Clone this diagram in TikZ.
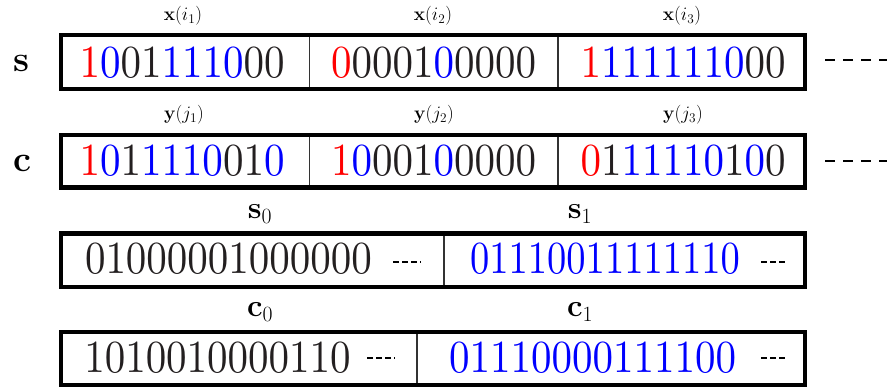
\documentclass[tikz,border=0pt]{standalone}
\usepackage{fix-cm}
\usepackage{xcolor}
\usepackage{graphicx}
\definecolor{ink}{RGB}{35,31,32}
\font\digfont=cmr10 at 41pt
\newcommand\R[1]{\textcolor{red}{#1}}
\newcommand\B[1]{\textcolor{blue}{#1}}
\newcommand\K[1]{\textcolor{ink}{#1}}
\newcommand\digs[1]{\scalebox{1}[1.12]{\digfont #1}}
\newcommand\digsn[1]{\scalebox{0.94}[1.12]{\digfont #1}}
\begin{document}
\begin{tikzpicture}[x=1pt,y=-1pt,
  bits/.style={anchor=base, inner sep=0pt},
  lab/.style={anchor=base, inner sep=0pt, font=\fontsize{19}{22}\selectfont},
  mid/.style={anchor=base, inner sep=0pt, font=\fontsize{31}{34}\selectfont},
  side/.style={anchor=base, inner sep=0pt, font=\fontsize{36}{40}\selectfont},
  frame/.style={line width=4.5pt},
  sep/.style={line width=1.5pt, draw=black!80},
  tail/.style={line width=2.5pt, dash pattern=on 10pt off 8pt},
  tinytail/.style={line width=1.2pt, dash pattern=on 5.5pt off 3.5pt}]
\useasboundingbox (0,0) rectangle (887,390);

% ---- row s
\draw[sep] (309.5,35) -- (309.5,89);
\draw[sep] (558,35) -- (558,89);
\draw[frame] (61,35) rectangle (805,89);
\node[side] (ls) at (21,72) {$\mathbf{s}$};
\node[lab] (xi1) at (183,21) {$\mathbf{x}(i_1)$};
\node[lab] (xi2) at (433,21) {$\mathbf{x}(i_2)$};
\node[lab] (xi3) at (682,21) {$\mathbf{x}(i_3)$};
\node[bits] (s1) at (182,78) {\digs{\R{1}\B{0}\K{01}\B{1110}\K{00}}};
\node[bits] (s2) at (433.5,78) {\digs{\R{0}\K{0001}\B{0}\K{0000}}};
\node[bits] (s3) at (683,78) {\digs{\R{1}\B{1111110}\K{00}}};
\coordinate (ta1) at (825,60);
\coordinate (tb1) at (887,60);
\draw[tail] (ta1) -- (tb1);

% ---- row c
\draw[sep] (309.5,135) -- (309.5,187.5);
\draw[sep] (558,135) -- (558,187.5);
\draw[frame] (61,135) rectangle (805,187.5);
\node[side] (lc) at (22,172) {$\mathbf{c}$};
\node[lab] (yj1) at (184,119.5) {$\mathbf{y}(j_1)$};
\node[lab] (yj2) at (434,119.5) {$\mathbf{y}(j_2)$};
\node[lab] (yj3) at (683,119.5) {$\mathbf{y}(j_3)$};
\node[bits] (c1) at (182,176) {\digs{\R{1}\B{0}\K{1}\B{1110}\K{01}\B{0}}};
\node[bits] (c2) at (433.5,176) {\digs{\R{1}\B{0}\K{001}\B{0}\K{0000}}};
\node[bits] (c3) at (683,176) {\digs{\R{0}\K{1}\B{11110}\K{1}\B{0}\K{0}}};
\coordinate (ta2) at (825,161);
\coordinate (tb2) at (887,161);
\draw[tail] (ta2) -- (tb2);

% ---- row s0 s1
\draw[sep] (444,233.5) -- (444,287);
\draw[frame] (61,233.5) rectangle (805,287);
\node[mid] (ls0) at (260,219) {$\mathbf{s}_0$};
\node[mid] (ls1) at (580,219) {$\mathbf{s}_1$};
\node[bits] (b0) at (228.5,274) {\digs{\K{01000001000000}}};
\node[bits] (b1) at (605,274) {\digsn{\B{01110011111110}}};
\coordinate (da0) at (393,262); \coordinate (db0) at (421,262);
\coordinate (da1) at (761,262); \coordinate (db1) at (788,262);
\draw[tinytail] (da0) -- (db0);
\draw[tinytail] (da1) -- (db1);

% ---- row c0 c1
\draw[sep] (417,332) -- (417,385);
\draw[frame] (61,332) rectangle (805,385);
\node[mid] (lc0) at (260,317) {$\mathbf{c}_0$};
\node[mid] (lc1) at (580,317) {$\mathbf{c}_1$};
\node[bits] (e0) at (217.5,373) {\digs{\K{1010010000110}}};
\node[bits] (e1) at (592.5,373) {\digs{\B{01110000111100}}};
\coordinate (ea0) at (367,358); \coordinate (eb0) at (395,358);
\coordinate (ea1) at (761,358); \coordinate (eb1) at (788,358);
\draw[tinytail] (ea0) -- (eb0);
\draw[tinytail] (ea1) -- (eb1);
\end{tikzpicture}
\end{document}
